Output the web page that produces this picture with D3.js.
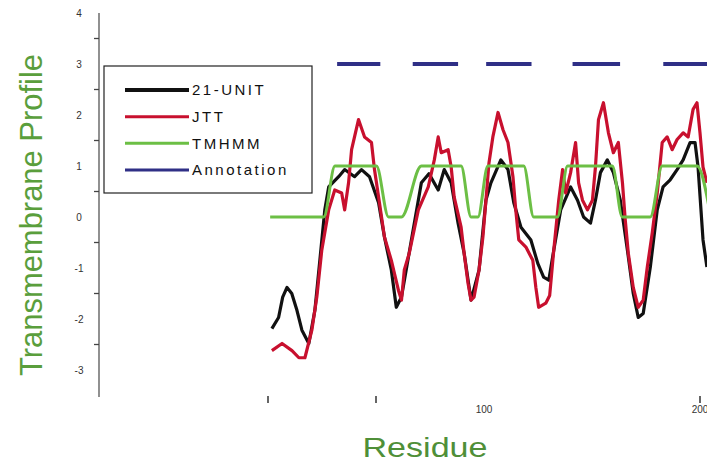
<!DOCTYPE html>
<html>
<head>
<meta charset="utf-8">
<script src="https://cdn.jsdelivr.net/npm/d3@7"></script>
<style>
body { margin: 0; background: #fff; }
svg { display: block; font-family: "Liberation Sans", Arial, sans-serif; }
</style>
</head>
<body>
<svg width="707" height="462"></svg>
<script>
// series names, in legend order
var seriesNames = ["21-UNIT", "JTT", "TMHMM", "Annotation"];

// 21-UNIT profile (black)
var unitResidue = [1.8, 4.9, 6.8, 8.8, 11.0, 13.4, 15.7, 18.9, 21.7, 24.0,
  26.3, 28.1, 32.7, 35.5, 40.1, 43.3, 47.0, 51.2, 53.9, 57.1,
  59.4, 61.8, 65.0, 71.0, 74.5, 78.8, 81.6, 84.8, 88.0, 90.8,
  94.0, 97.7, 100.9, 103.2, 107.8, 111.1, 113.8, 117.1, 121.7, 124.9,
  127.6, 130.0, 132.3, 135.5, 140.1, 143.3, 146.1, 149.3, 151.6, 153.9,
  157.1, 159.9, 163.1, 166.4, 169.1, 171.4, 173.7, 177.0, 180.2, 182.9,
  186.2, 189.4, 192.2, 195.4, 197.7, 199.1, 201.4, 203.2];
var unitValue = [-2.19, -1.97, -1.57, -1.38, -1.50, -1.83, -2.22, -2.48, -1.83, -0.85,
  0.14, 0.59, 0.79, 0.93, 0.79, 0.93, 0.79, 0.28, -0.39, -1.04,
  -1.77, -1.57, -0.79, 0.67, 0.85, 0.53, 0.93, 0.67, -0.12, -0.71,
  -1.63, -1.04, 0.33, 0.67, 1.12, 0.93, 0.28, -0.20, -0.45, -0.91,
  -1.18, -1.24, -0.65, 0.14, 0.59, 0.33, 0.00, -0.12, 0.33, 0.87,
  1.12, 0.87, 0.33, -0.65, -1.50, -1.97, -1.89, -0.98, 0.14, 0.59,
  0.73, 0.93, 1.12, 1.46, 1.46, 0.98, -0.45, -0.98];

// JTT profile (red)
var jttResidue = [1.8, 6.5, 11.1, 14.3, 17.1, 20.3, 22.6, 24.9, 28.1, 30.9,
  34.1, 35.5, 37.3, 38.7, 41.9, 44.7, 47.9, 49.3, 51.6, 53.9,
  57.1, 60.4, 61.8, 63.1, 65.4, 69.6, 74.2, 77.0, 78.8, 80.2,
  83.4, 84.8, 86.2, 89.4, 90.8, 92.6, 94.0, 95.4, 97.7, 99.5,
  100.9, 102.3, 104.1, 106.5, 108.8, 111.1, 113.4, 114.7, 116.1, 119.4,
  122.6, 124.0, 125.3, 128.6, 130.4, 132.3, 134.6, 136.4, 137.8, 140.1,
  142.4, 143.8, 145.6, 147.9, 150.2, 151.6, 153.0, 155.3, 157.6, 159.9,
  162.2, 164.1, 165.4, 166.8, 169.1, 171.4, 173.7, 175.6, 177.9, 180.2,
  182.5, 184.8, 187.1, 189.4, 192.2, 194.5, 196.8, 198.6, 200.0, 201.4,
  203.2];
var jttValue = [-2.62, -2.48, -2.62, -2.76, -2.76, -2.22, -1.57, -0.65, 0.14, 0.53,
  0.47, 0.14, 0.67, 1.32, 1.91, 1.57, 1.46, 0.93, 0.28, -0.39,
  -0.85, -1.44, -1.63, -1.04, -0.71, 0.14, 0.59, 1.12, 1.57, 1.26,
  1.32, 0.98, 0.39, -0.20, -0.71, -1.30, -1.63, -1.57, -1.04, -0.39,
  0.33, 1.06, 1.57, 2.05, 1.71, 1.46, 0.79, 0.14, -0.45, -0.59,
  -0.85, -1.38, -1.77, -1.69, -1.54, -0.65, 0.33, 0.93, 0.47, 0.87,
  1.46, 0.67, 0.33, 0.14, 0.33, 0.98, 1.91, 2.24, 1.65, 1.26,
  1.46, 0.67, -0.06, -0.71, -1.38, -1.77, -1.63, -0.98, -0.31, 0.47,
  1.46, 1.57, 1.32, 1.52, 1.65, 1.57, 2.11, 2.24, 1.65, 0.98,
  0.67];

// TMHMM prediction (green)
var tmhmmResidue = [1, 25.8, 31, 50.2, 55.8, 61.8, 71, 89.4, 94, 97.2,
  101.8, 118.4, 123, 134, 138.7, 159.4, 164, 177, 182.5, 198.6, 205];
var tmhmmValue = [0, 0, 1, 1, 0, 0, 1, 1, 0, 0,
  1, 1, 0, 0, 1, 1, 0, 0, 1, 1, 0];

// annotated transmembrane segments (blue dashes)
var annoStart = [32, 67, 101, 141, 183];
var annoEnd = [52, 88, 122, 163, 205];
var annoLevel = 3;

// axis ticks
var yLabels = [-3, -2, -1, 0, 1, 2, 3, 4];
var yMinor = [-2.5, -1.5, -0.5, 0.5, 1.5, 2.5, 3.5];
var xTickMarks = [0, 50, 200];
var xLabels = [100, 200];

var colors = ["#111111", "#c8102e", "#6cbf45", "#2f2f86"];

var svg = d3.select("svg");

var xScale = d3.scaleLinear().domain([0, 200]).range([268, 700]),
    yScale = d3.scaleLinear().domain([-3, 4]).range([370, 13]);

// y axis
svg.append("line")
  .attr("x1", 99).attr("x2", 99)
  .attr("y1", yScale(4)).attr("y2", yScale(-3.53))
  .attr("stroke", "#555").attr("stroke-width", 1.3);

svg.selectAll(".ytick")
  .data(yMinor)
  .enter().append("line")
  .attr("class", "ytick")
  .attr("x1", 94).attr("x2", 99)
  .attr("y1", function(d) { return yScale(d); })
  .attr("y2", function(d) { return yScale(d); })
  .attr("stroke", "#444").attr("stroke-width", 1.3);

svg.selectAll(".ylab")
  .data(yLabels)
  .enter().append("text")
  .attr("class", "ylab")
  .attr("x", 79)
  .attr("y", function(d) { return yScale(d); })
  .attr("dy", "0.35em")
  .attr("text-anchor", "middle")
  .style("font-size", "10px")
  .style("fill", "#333")
  .text(function(d) { return d; });

// x ticks (no axis line in the original)
svg.selectAll(".xtick")
  .data(xTickMarks)
  .enter().append("line")
  .attr("class", "xtick")
  .attr("x1", function(d) { return xScale(d); })
  .attr("x2", function(d) { return xScale(d); })
  .attr("y1", 396).attr("y2", 403)
  .attr("stroke", "#333").attr("stroke-width", 1.5);

svg.selectAll(".xlab")
  .data(xLabels)
  .enter().append("text")
  .attr("class", "xlab")
  .attr("x", function(d) { return xScale(d); })
  .attr("y", 413)
  .attr("text-anchor", "middle")
  .style("font-size", "10px")
  .style("fill", "#333")
  .text(function(d) { return d; });

// axis titles
svg.append("text")
  .attr("transform", "translate(42,215) rotate(-90)")
  .attr("text-anchor", "middle")
  .attr("textLength", 322)
  .attr("lengthAdjust", "spacingAndGlyphs")
  .style("font-size", "31px")
  .style("fill", "#5a9e3c")
  .text("Transmembrane Profile");

svg.append("text")
  .attr("x", 425).attr("y", 457)
  .attr("text-anchor", "middle")
  .attr("textLength", 125)
  .attr("lengthAdjust", "spacingAndGlyphs")
  .style("font-size", "27px")
  .style("fill", "#4f8f38")
  .text("Residue");

// profiles
function toPoints(xs, ys) {
  return xs.map(function(r, i) { return [r, ys[i]]; });
}

var line = d3.line()
  .x(function(d) { return xScale(d[0]); })
  .y(function(d) { return yScale(d[1]); });

var plot = svg.append("g");

plot.append("path")
  .datum(toPoints(unitResidue, unitValue))
  .attr("d", line)
  .attr("fill", "none")
  .attr("stroke", colors[0])
  .attr("stroke-width", 3.2)
  .attr("stroke-linejoin", "round");

plot.append("path")
  .datum(toPoints(jttResidue, jttValue))
  .attr("d", line)
  .attr("fill", "none")
  .attr("stroke", colors[1])
  .attr("stroke-width", 3.2)
  .attr("stroke-linejoin", "round");

plot.append("path")
  .datum(toPoints(tmhmmResidue, tmhmmValue))
  .attr("d", line.curve(d3.curveMonotoneX))
  .attr("fill", "none")
  .attr("stroke", colors[2])
  .attr("stroke-width", 3);

plot.selectAll(".anno")
  .data(annoStart)
  .enter().append("line")
  .attr("class", "anno")
  .attr("x1", function(d) { return xScale(d); })
  .attr("x2", function(d, i) { return xScale(annoEnd[i]); })
  .attr("y1", yScale(annoLevel))
  .attr("y2", yScale(annoLevel))
  .attr("stroke", colors[3])
  .attr("stroke-width", 4);

// legend
var legend = svg.append("g");

legend.append("rect")
  .attr("x", 104).attr("y", 66)
  .attr("width", 208).attr("height", 127)
  .attr("fill", "#fff")
  .attr("stroke", "#222")
  .attr("stroke-width", 1.2);

var legendY = d3.scalePoint().domain(seriesNames).range([90, 170]);

legend.selectAll(".lline")
  .data(seriesNames)
  .enter().append("line")
  .attr("class", "lline")
  .attr("x1", 125).attr("x2", 189)
  .attr("y1", function(d) { return legendY(d); })
  .attr("y2", function(d) { return legendY(d); })
  .attr("stroke", function(d, i) { return colors[i]; })
  .attr("stroke-width", function(d, i) { return i == 0 ? 4 : 3; });

legend.selectAll(".ltext")
  .data(seriesNames)
  .enter().append("text")
  .attr("class", "ltext")
  .attr("x", 192)
  .attr("y", function(d) { return legendY(d); })
  .attr("dy", "0.36em")
  .style("font-size", "15px")
  .style("letter-spacing", "2.5px")
  .style("fill", "#111")
  .text(function(d) { return d; });
</script>
</body>
</html>
